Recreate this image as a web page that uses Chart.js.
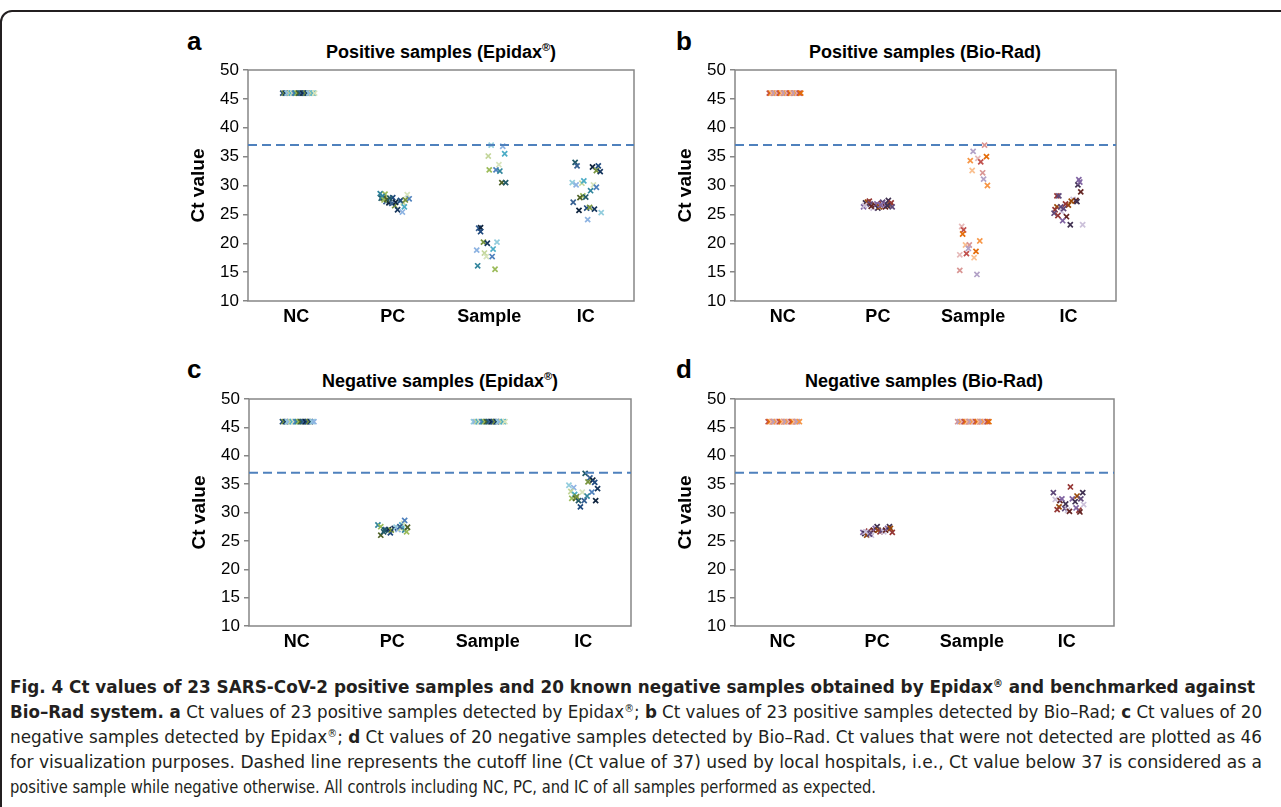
<!DOCTYPE html>
<html>
<head>
<meta charset="utf-8">
<script src="https://cdn.jsdelivr.net/npm/chart.js@4.4.1/dist/chart.umd.min.js"></script>
<style>
  body { margin: 0; width: 1281px; height: 807px; background: #fff; overflow: hidden; position: relative;
         font-family: "Liberation Sans", Arial, sans-serif; color: #000; }
  .frame { position: absolute; left: 0; top: 10px; width: 1330px; height: 850px; border: 2px solid #231f20; border-radius: 12px; }
  canvas { position: absolute; }
  .lbl { position: absolute; font-weight: bold; font-size: 26px; line-height: 26px; }
  .ttl { position: absolute; font-weight: bold; font-size: 18px; line-height: 18px; transform: translateX(-50%); white-space: nowrap; }
  .ttl sup { font-size: 11px; line-height: 0; vertical-align: 7px; }
  .cap { position: absolute; left: 10px; font-family: "Liberation Sans Narrow", "DejaVu Sans Condensed", "Liberation Sans", sans-serif;
         font-size: 17px; line-height: 25px; white-space: nowrap; transform-origin: 0 0; color: #231f20; }
  .cap sup { font-size: 10px; line-height: 0; vertical-align: 6px; }
</style>
</head>
<body>
<div class="frame"></div>

<div class="lbl" style="left:187px;top:28px">a</div>
<div class="lbl" style="left:676px;top:28px">b</div>
<div class="lbl" style="left:187px;top:356px">c</div>
<div class="lbl" style="left:676px;top:356px">d</div>

<div class="ttl" style="left:441px;top:43px">Positive samples (Epidax<sup>®</sup>)</div>
<div class="ttl" style="left:925px;top:43px">Positive samples (Bio-Rad)</div>
<div class="ttl" style="left:440px;top:372px">Negative samples (Epidax<sup>®</sup>)</div>
<div class="ttl" style="left:924px;top:372px">Negative samples (Bio-Rad)</div>

<canvas id="ca" width="470" height="320" style="left:180px;top:25px"></canvas>
<canvas id="cb" width="465" height="320" style="left:667px;top:25px"></canvas>
<canvas id="cc" width="466" height="316" style="left:181px;top:354px"></canvas>
<canvas id="cd" width="463" height="316" style="left:667px;top:354px"></canvas>

<div class="cap" data-w="1245" style="top:675px"><b>Fig. 4 Ct values of 23 SARS-CoV-2 positive samples and 20 known negative samples obtained by Epidax<sup>®</sup> and benchmarked against</b></div>
<div class="cap" data-w="1252" style="top:700px"><b>Bio–Rad system. a</b> Ct values of 23 positive samples detected by Epidax<sup>®</sup>; <b>b</b> Ct values of 23 positive samples detected by Bio–Rad; <b>c</b> Ct values of 20</div>
<div class="cap" data-w="1252" style="top:725px">negative samples detected by Epidax<sup>®</sup>; <b>d</b> Ct values of 20 negative samples detected by Bio–Rad. Ct values that were not detected are plotted as 46</div>
<div class="cap" data-w="1252" style="top:750px">for visualization purposes. Dashed line represents the cutoff line (Ct value of 37) used by local hospitals, i.e., Ct value below 37 is considered as a</div>
<div class="cap" data-w="866" style="top:775px">positive sample while negative otherwise. All controls including NC, PC, and IC of all samples performed as expected.</div>

<script>
const categories = ['NC', 'PC', 'Sample', 'IC'];
const cutoff = 37;

// horizontal jitter of the samples inside a category (category units)
const jitter23 = [-0.14, -0.125, -0.11, -0.095, -0.08, -0.065, -0.05, -0.035, -0.02, -0.005, 0.01, 0.025,
                  0.04, 0.055, 0.07, 0.085, 0.1, 0.115, 0.13, 0.145, 0.16, 0.175, 0.19];
const jitter20 = [-0.15, -0.133, -0.115, -0.098, -0.081, -0.063, -0.046, -0.029, -0.011, 0.006,
                  0.023, 0.041, 0.058, 0.075, 0.093, 0.11, 0.127, 0.145, 0.162, 0.18];

// not detected -> plotted as 46
const undetected23 = [46, 46, 46, 46, 46, 46, 46, 46, 46, 46, 46, 46, 46, 46, 46, 46, 46, 46, 46, 46, 46, 46, 46];
const undetected20 = [46, 46, 46, 46, 46, 46, 46, 46, 46, 46, 46, 46, 46, 46, 46, 46, 46, 46, 46, 46];

// [jitter, Ct]
const aPC = [[-0.13, 28.6], [-0.08, 28.5], [-0.10, 27.8], [-0.12, 27.8], [-0.07, 27.2], [-0.04, 27.0], [0.00, 27.9],
             [0.02, 26.5], [0.05, 25.8], [0.07, 27.3], [0.10, 25.4], [0.11, 27.0], [0.12, 26.3], [0.15, 28.4],
             [0.17, 27.7], [-0.11, 28.1], [-0.09, 27.5], [-0.06, 27.6], [-0.03, 27.8], [-0.01, 26.9], [0.03, 27.1],
             [0.08, 27.4], [0.13, 27.5]];
const aSample = [[0.02, 37.0], [0.14, 36.8], [-0.01, 35.1], [0.16, 35.5], [0.10, 33.6], [0.07, 32.7], [0.11, 32.5],
                 [0.00, 32.7], [0.13, 30.5], [0.17, 30.5], [-0.11, 22.6], [-0.09, 22.7], [-0.09, 22.0], [-0.06, 20.2],
                 [-0.02, 20.0], [0.08, 20.2], [-0.13, 18.8], [-0.05, 18.3], [0.04, 19.0], [-0.03, 17.7], [0.03, 17.7],
                 [-0.12, 16.1], [0.06, 15.5]];
const aIC = [[-0.11, 34.0], [-0.09, 33.4], [0.07, 33.2], [0.13, 33.4], [0.11, 32.6], [0.15, 32.4], [-0.14, 30.5],
             [-0.10, 30.1], [-0.04, 30.4], [-0.02, 30.8], [0.08, 30.1], [0.11, 29.7], [0.05, 29.1], [-0.03, 28.2],
             [-0.06, 27.9], [0.00, 28.0], [-0.13, 27.1], [-0.07, 25.7], [0.01, 26.1], [0.04, 26.2], [0.09, 25.9],
             [0.16, 25.3], [0.02, 24.1]];

const bPC = [[-0.15, 26.3], [-0.13, 27.0], [-0.11, 27.1], [-0.09, 27.3], [-0.08, 26.8], [-0.05, 26.1], [-0.03, 26.6],
             [-0.01, 26.8], [0.00, 26.1], [0.02, 26.3], [0.04, 26.9], [0.05, 27.1], [0.06, 26.6], [0.08, 26.3],
             [0.09, 26.8], [0.11, 27.4], [0.13, 26.6], [0.14, 27.0], [0.15, 26.3], [-0.14, 26.5], [-0.07, 26.4],
             [0.03, 26.6], [0.10, 26.5]];
const bSample = [[0.12, 37.0], [0.00, 35.9], [-0.03, 34.3], [0.05, 34.7], [0.08, 34.1], [0.14, 35.0], [-0.01, 32.6],
                 [0.10, 32.2], [0.11, 31.1], [0.15, 30.0], [-0.12, 22.9], [-0.10, 22.3], [-0.11, 21.6], [-0.08, 19.7],
                 [-0.04, 19.7], [-0.05, 19.1], [0.07, 20.4], [-0.14, 18.0], [-0.07, 18.2], [0.03, 18.6], [0.01, 17.5],
                 [-0.14, 15.3], [0.04, 14.6]];
const bIC = [[-0.12, 28.2], [-0.10, 28.2], [0.05, 27.6], [0.08, 27.4], [0.11, 31.0], [0.10, 30.1], [-0.12, 26.3],
             [-0.14, 25.8], [-0.15, 25.2], [-0.07, 25.5], [-0.02, 24.6], [-0.06, 23.9], [0.02, 23.2], [0.00, 26.6],
             [-0.03, 26.8], [-0.08, 26.3], [0.15, 23.2], [0.13, 28.9], [0.12, 30.6], [0.09, 27.2], [0.03, 27.3],
             [-0.11, 24.8], [-0.05, 26.0]];

const cPC = [[-0.15, 27.8], [-0.12, 27.5], [-0.12, 26.0], [-0.09, 26.6], [-0.07, 27.0], [-0.04, 27.0], [-0.02, 26.4],
             [-0.01, 26.9], [0.02, 27.2], [0.04, 27.4], [0.06, 27.0], [0.09, 27.2], [0.10, 27.8], [0.12, 28.1],
             [0.13, 28.6], [0.13, 26.9], [0.15, 26.6], [0.16, 27.4], [-0.08, 26.9], [0.08, 27.5]];
const cIC = [[0.02, 36.9], [0.07, 36.1], [0.10, 35.7], [0.12, 35.3], [0.05, 35.4], [0.15, 34.2], [-0.15, 34.8],
             [-0.10, 34.4], [-0.13, 33.7], [-0.09, 33.2], [-0.01, 33.6], [0.09, 33.6], [0.04, 32.9], [-0.12, 32.5],
             [-0.08, 32.5], [-0.05, 32.1], [0.01, 32.1], [0.13, 32.1], [-0.03, 31.0], [-0.07, 32.8]];

const dPC = [[-0.15, 26.5], [-0.13, 26.3], [-0.11, 26.0], [-0.09, 26.7], [-0.07, 26.4], [-0.06, 26.0], [-0.04, 26.9],
             [-0.02, 27.2], [0.00, 27.5], [0.01, 26.9], [0.03, 26.6], [0.05, 26.8], [0.07, 26.6], [0.09, 26.9],
             [0.11, 27.2], [0.13, 27.5], [0.14, 27.2], [0.16, 26.5], [-0.08, 26.2], [-0.12, 26.6]];
const dIC = [[0.04, 34.5], [-0.14, 33.5], [-0.12, 32.3], [-0.07, 32.1], [-0.05, 32.4], [-0.01, 31.5], [-0.08, 31.0],
             [-0.10, 30.5], [-0.02, 30.7], [0.01, 30.4], [0.03, 30.2], [0.06, 32.4], [0.09, 31.9], [0.11, 32.9],
             [0.13, 30.4], [0.15, 32.4], [0.18, 31.4], [0.14, 30.1], [0.10, 30.8], [0.17, 33.5]];

const epidaxColors = ['#1f497d', '#4f81bd', '#77933c', '#31859c', '#17375e', '#9bbb59', '#93cddd', '#4f6228',
                      '#8db3e2', '#215968', '#c3d69b', '#366092', '#4bacc6', '#0f243e', '#d7e4bc'];
const bioradColors = ['#c0504d', '#632523', '#e46c0a', '#8064a2', '#fac090', '#403151', '#d99694', '#984807',
                      '#b3a2c7', '#953735', '#f79646', '#5f497a', '#e6b9b8', '#ccc1da'];

Chart.defaults.font.family = '"Liberation Sans", Arial, sans-serif';
Chart.defaults.color = '#000';

const axisGray = '#868686';

const boxPlugin = {
  id: 'box',
  beforeDatasetsDraw(chart) {
    const { ctx, chartArea: a } = chart;
    ctx.save();
    ctx.strokeStyle = axisGray;
    ctx.lineWidth = 1.5;
    ctx.strokeRect(a.left, a.top, a.right - a.left, a.bottom - a.top);
    ctx.restore();
  }
};

function pairs(jit, vals) {
  return jit.map((j, i) => [j, vals[i]]);
}

function makeChart(id, groups, palette) {
  const datasets = [{
    type: 'line',
    data: [{ x: 0.5, y: cutoff }, { x: 4.5, y: cutoff }],
    borderColor: '#4f81bd',
    borderWidth: 2,
    borderDash: [9, 5],
    pointRadius: 0,
    fill: false
  }];
  groups.forEach((pts, c) => {
    datasets.push({
      type: 'scatter',
      data: pts.map(p => ({ x: c + 1 + p[0], y: p[1] })),
      pointStyle: 'crossRot',
      pointRadius: 3.6,
      pointBorderWidth: 1.7,
      pointBorderColor: pts.map((p, i) => palette[(i * 2 + c * 3) % palette.length]),
      pointBackgroundColor: 'transparent'
    });
  });

  new Chart(document.getElementById(id), {
    type: 'scatter',
    data: { datasets: datasets },
    options: {
      responsive: false,
      animation: false,
      layout: { padding: { left: 7, top: 45, right: 16, bottom: 0 } },
      plugins: { legend: { display: false }, tooltip: { enabled: false } },
      scales: {
        x: {
          type: 'linear', min: 0.5, max: 4.5,
          afterBuildTicks: s => { s.ticks = categories.map((c, i) => ({ value: i + 1 })); },
          ticks: {
            callback: v => categories[Math.round(v) - 1],
            font: { size: 18, weight: 'bold' }, color: '#000', padding: 5, autoSkip: false, maxRotation: 0
          },
          grid: { display: false, drawTicks: false },
          border: { display: false },
          afterFit: s => { s.height = 44; }
        },
        y: {
          min: 10, max: 50,
          ticks: { stepSize: 5, font: { size: 17 }, color: '#000', padding: 4 },
          grid: { drawOnChartArea: false, tickLength: 5, color: axisGray, lineWidth: 1.5 },
          border: { display: false },
          title: { display: true, text: 'Ct value', font: { size: 19, weight: 'bold' }, color: '#000', padding: 0 },
          afterFit: s => { s.width = 61; }
        }
      }
    },
    plugins: [boxPlugin]
  });
}

makeChart('ca', [pairs(jitter23, undetected23), aPC, aSample, aIC], epidaxColors);
makeChart('cb', [pairs(jitter23, undetected23), bPC, bSample, bIC], bioradColors);
makeChart('cc', [pairs(jitter20, undetected20), cPC, pairs(jitter20, undetected20), cIC], epidaxColors);
makeChart('cd', [pairs(jitter20, undetected20), dPC, pairs(jitter20, undetected20), dIC], bioradColors);

// squeeze each caption line to the width it has in the figure
document.querySelectorAll('.cap').forEach(el => {
  const w = el.getBoundingClientRect().width;
  el.style.transform = 'scaleX(' + (Number(el.dataset.w) / w) + ')';
});
</script>
</body>
</html>
